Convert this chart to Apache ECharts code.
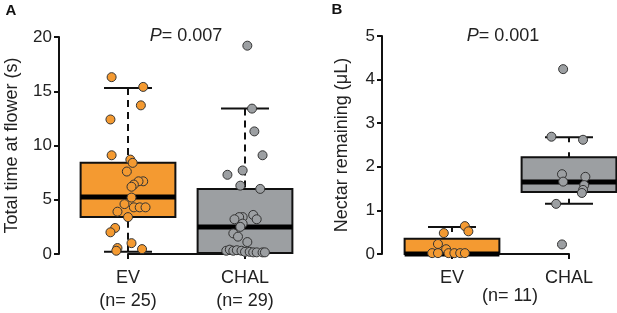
<!DOCTYPE html>
<html>
<head>
<meta charset="utf-8">
<script src="https://cdn.jsdelivr.net/npm/echarts@6.0.0/dist/echarts.min.js"></script>
<style>
  html, body { margin: 0; padding: 0; background: #fff; }
  #main { width: 617px; height: 313px; }
</style>
</head>
<body>
<div id="main"></div>
<script>
// categories and sample sizes
const categories = ['EV', 'CHAL'];
const nLabelsA = ['(n= 25)', '(n= 29)'];

// box stats: [min, q1, median, q3, max]
const boxTimeA = [[0.2, 3.4, 5.25, 8.4, 15.3], [0.1, 0.1, 2.5, 6.0, 13.4]];
const boxNectarB = [[0, 0, 0, 0.35, 0.62], [1.15, 1.42, 1.65, 2.22, 2.68]];

// panel A: total time at flower (s), with horizontal jitter (category units)
const evTime = [16.3, 15.4, 13.7, 12.4, 9.1, 8.7, 8.4, 7.6, 6.7, 6.7, 6.4, 6.2, 5.2, 4.6, 4.3, 4.3, 4.3, 3.9, 3.4, 2.4, 2.0, 1.0, 0.55, 0.3, 0.45];
const evTimeJit = [-0.14, 0.13, 0.11, -0.15, -0.14, 0.02, 0.04, -0.01, 0.13, 0.09, 0.05, 0.03, 0.03, -0.03, 0.05, 0.10, 0.15, -0.09, 0, -0.11, -0.15, 0.03, -0.09, -0.10, 0.12];
const chalTime = [19.2, 13.4, 11.3, 9.1, 7.7, 7.3, 6.3, 6.0, 3.6, 3.2, 3.4, 3.4, 3.2, 2.8, 2.5, 1.9, 1.6, 1.1,
                  0.3, 0.4, 0.3, 0.35, 0.3, 0.2, 0.2, 0.15, 0.15, 0.15, 0.15];
const chalTimeJit = [0.02, 0.06, 0.08, 0.15, -0.02, -0.15, -0.04, 0.13, 0.07, 0.10, -0.02, -0.05, -0.09, -0.02, -0.04, -0.10, -0.06, 0.02,
                     -0.16, -0.13, -0.10, -0.07, -0.03, 0, 0.04, 0.07, 0.10, 0.15, 0.17];

// panel B: nectar remaining (uL)
const evNectar = [0.64, 0.52, 0.48, 0.23, 0.11, 0.02, 0.02, 0.02, 0.02, 0.02, 0.02];
const evNectarJit = [0.11, 0.14, -0.07, -0.12, -0.05, -0.17, -0.12, -0.03, 0.02, 0.07, 0.11];
const chalNectar = [4.24, 2.69, 2.62, 1.83, 1.66, 1.77, 1.58, 1.47, 1.40, 1.15, 0.22];
const chalNectarJit = [-0.05, -0.15, 0.12, -0.06, -0.05, 0.14, 0.13, 0.12, 0.11, -0.11, -0.06];

const ORANGE = '#F49A31';
const GREY = '#9C9FA2';
const FONT = '"Liberation Sans", Arial, Helvetica, sans-serif';

let myChart = echarts.init(document.getElementById('main'));

// 箱体 + 虚线须 (custom)
const boxRender = function(dash) {
    return function(params, api) {
        const x = api.value(0);
        const lo = api.value(1), q1 = api.value(2), med = api.value(3), q3 = api.value(4), hi = api.value(5);
        const hw = 0.405, cw = 0.205;
        const fill = api.visual('color');
        const tl = api.coord([x - hw, q3]);
        const br = api.coord([x + hw, q1]);
        const children = [];
        const whisker = function(end, edge) {
            const a = api.coord([x, end]), b = api.coord([x, edge]);
            const c1 = api.coord([x - cw, end]), c2 = api.coord([x + cw, end]);
            if (Math.abs(a[1] - b[1]) > 1) {
                children.push({type: 'line', shape: {x1: a[0], y1: a[1], x2: b[0], y2: b[1]},
                    style: {stroke: '#111', lineWidth: 2, lineDash: dash}});
                children.push({type: 'line', shape: {x1: c1[0], y1: c1[1], x2: c2[0], y2: c2[1]},
                    style: {stroke: '#111', lineWidth: 2}});
            }
        };
        whisker(hi, q3);
        whisker(lo, q1);
        children.push({type: 'rect', shape: {x: tl[0], y: tl[1], width: br[0] - tl[0], height: br[1] - tl[1]},
            style: {fill: fill, stroke: '#111', lineWidth: 2}});
        const m1 = api.coord([x - hw, med]), m2 = api.coord([x + hw, med]);
        children.push({type: 'line', shape: {x1: m1[0], y1: m1[1], x2: m2[0], y2: m2[1]},
            style: {stroke: '#000', lineWidth: 5}});
        return {type: 'group', children: children};
    };
};

const toPts = function(jit, vals, pos) {
    return vals.map(function(v, i) { return [pos + jit[i], v]; });
};

const yAxisBase = function(gridIndex, max, name, offset, nameGap) {
    return {
        gridIndex: gridIndex,
        type: 'value',
        min: 0,
        max: max,
        interval: max / 4 >= 5 ? 5 : 1,
        offset: offset,
        name: name,
        nameLocation: 'middle',
        nameGap: nameGap,
        nameTextStyle: {fontFamily: FONT, fontSize: 18, color: '#222'},
        axisLine: {show: true, lineStyle: {color: '#111', width: 2}},
        axisTick: {show: true, length: 5, lineStyle: {color: '#111', width: 2}},
        axisLabel: {fontFamily: FONT, fontSize: 17, color: '#222', margin: 7},
        splitLine: {show: false}
    };
};

let option = {
    animation: false,
    grid: [
        {left: 128, width: 117, top: 37, height: 217},
        {left: 452, width: 117, top: 36, height: 218}
    ],
    xAxis: [{
        gridIndex: 0,
        type: 'value', min: 1, max: 2, interval: 1,
        offset: 9,
        axisLine: {lineStyle: {color: '#111', width: 2}},
        axisTick: {length: 5, lineStyle: {color: '#111', width: 2}},
        splitLine: {show: false},
        axisLabel: {
            showMinLabel: true, showMaxLabel: true,
            fontFamily: FONT, fontSize: 18, color: '#222', margin: 4, lineHeight: 23,
            formatter: function(v) { return categories[v - 1] + '\n' + nLabelsA[v - 1]; }
        }
    }, {
        gridIndex: 1,
        type: 'value', min: 1, max: 2, interval: 1,
        offset: 9,
        axisLine: {lineStyle: {color: '#111', width: 2}},
        axisTick: {length: 5, lineStyle: {color: '#111', width: 2}},
        splitLine: {show: false},
        axisLabel: {
            showMinLabel: true, showMaxLabel: true,
            fontFamily: FONT, fontSize: 18, color: '#222', margin: 4, lineHeight: 23,
            formatter: function(v) { return categories[v - 1]; }
        }
    }],
    yAxis: [
        yAxisBase(0, 20, 'Total time at flower (s)', 69, 38),
        yAxisBase(1, 5, 'Nectar remaining (μL)', 70, 31)
    ],
    graphic: [
        {type: 'text', x: 11, y: 11, style: {text: 'A', font: 'bold 15px ' + FONT, fill: '#111', align: 'center', verticalAlign: 'middle'}},
        {type: 'text', x: 337, y: 10, style: {text: 'B', font: 'bold 15px ' + FONT, fill: '#111', align: 'center', verticalAlign: 'middle'}},
        {type: 'text', x: 186, y: 36, style: {text: '{i|P}= 0.007', font: '18px ' + FONT, fill: '#222', align: 'center', verticalAlign: 'middle',
            rich: {i: {fontStyle: 'italic', fontFamily: FONT, fontSize: 18, fill: '#222'}}}},
        {type: 'text', x: 503, y: 36, style: {text: '{i|P}= 0.001', font: '18px ' + FONT, fill: '#222', align: 'center', verticalAlign: 'middle',
            rich: {i: {fontStyle: 'italic', fontFamily: FONT, fontSize: 18, fill: '#222'}}}},
        {type: 'text', x: 510, y: 296, style: {text: '(n= 11)', font: '18px ' + FONT, fill: '#222', align: 'center', verticalAlign: 'middle'}}
    ],
    series: [{
        type: 'custom',
        xAxisIndex: 0, yAxisIndex: 0,
        clip: false, z: 2,
        renderItem: boxRender([7, 5]),
        data: boxTimeA.map(function(b, i) { return {value: [i + 1].concat(b), itemStyle: {color: i === 0 ? ORANGE : GREY}}; })
    }, {
        type: 'custom',
        xAxisIndex: 1, yAxisIndex: 1,
        clip: false, z: 2,
        renderItem: boxRender([5, 10]),
        data: boxNectarB.map(function(b, i) { return {value: [i + 1].concat(b), itemStyle: {color: i === 0 ? ORANGE : GREY}}; })
    }, {
        type: 'scatter', xAxisIndex: 0, yAxisIndex: 0, clip: false, z: 5,
        symbolSize: 9,
        itemStyle: {color: ORANGE, borderColor: '#333', borderWidth: 1, opacity: 1},
        data: toPts(evTimeJit, evTime, 1)
    }, {
        type: 'scatter', xAxisIndex: 0, yAxisIndex: 0, clip: false, z: 5,
        symbolSize: 9,
        itemStyle: {color: GREY, borderColor: '#333', borderWidth: 1, opacity: 1},
        data: toPts(chalTimeJit, chalTime, 2)
    }, {
        type: 'scatter', xAxisIndex: 1, yAxisIndex: 1, clip: false, z: 5,
        symbolSize: 9,
        itemStyle: {color: ORANGE, borderColor: '#333', borderWidth: 1, opacity: 1},
        data: toPts(evNectarJit, evNectar, 1)
    }, {
        type: 'scatter', xAxisIndex: 1, yAxisIndex: 1, clip: false, z: 5,
        symbolSize: 9,
        itemStyle: {color: GREY, borderColor: '#333', borderWidth: 1, opacity: 1},
        data: toPts(chalNectarJit, chalNectar, 2)
    }]
};

myChart.setOption(option);

window.addEventListener("resize", function() {
    myChart.resize();
});
</script>
</body>
</html>
